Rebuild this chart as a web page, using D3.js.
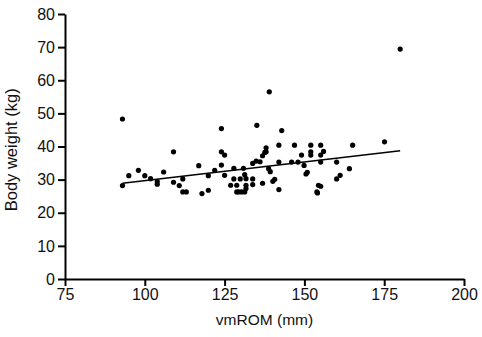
<!DOCTYPE html>
<html lang="en">
<head>
<meta charset="UTF-8">
<title>Body weight vs vmROM</title>
<style>
  body { margin: 0; background: #fff; }
  text { font-family: "Liberation Sans", Arial, sans-serif; }
</style>
</head>
<body>
<div id="wrapper"></div>
<script src="https://d3js.org/d3.v7.min.js"></script>
<script>
// data
const vmROM = [93, 93, 95, 98, 100, 101.8, 103.9, 103.9, 105.9, 109, 109, 110.8, 111.9, 111.9, 113,
  116.9, 117.9, 119.9, 119.9, 121.9, 124, 124, 125, 124, 125, 127.9, 127.9, 126.9, 128.8, 129.9,
  130.9, 131.3, 131.7, 128.8, 129.4, 130.3, 131.3, 131.7, 131.7, 133.8, 133.8, 133.8, 134.9, 135.1,
  136.1, 136.9, 136.9, 137.6, 138, 138, 138.8, 139, 139.3, 140.1, 140.7, 142, 142, 142, 142.9,
  146, 146.9, 148, 149.1, 149.9, 150.5, 150.9, 152, 152, 152, 153.9, 154.4, 155.1, 155.1, 156,
  155.1, 155.1, 154.1, 160.1, 160.1, 161.2, 164.1, 165.1, 175.1, 180];
const bodyWeight = [48.3, 28.2, 31.2, 32.8, 31.2, 30.3, 29.4, 28.6, 32.3, 38.4, 29.2, 28.2, 30.2, 26.3, 26.3,
  34.2, 25.8, 31.2, 26.8, 32.8, 45.4, 38.4, 37.4, 34.4, 31.3, 33.4, 30.2, 28.3, 28.3, 30.2,
  33.4, 31.5, 30.3, 26.3, 26.3, 26.3, 26.3, 28.3, 27.3, 30.2, 28.5, 34.9, 35.6, 46.4,
  35.4, 37.2, 28.9, 38.2, 39.6, 38.4, 33.3, 56.5, 32.4, 29.5, 30.1, 40.4, 35.3, 27.0, 44.8,
  35.3, 40.4, 35.3, 37.4, 34.3, 31.7, 32.2, 38.4, 40.4, 37.4, 26.3, 28.3, 40.4, 37.4, 38.5,
  35.3, 28.0, 26.0, 35.3, 30.2, 31.3, 33.3, 40.4, 41.4, 69.4];
// fitted line end points
const fitX = [93, 180];
const fitY = [28.9, 38.7];
const xTicks = [75, 100, 125, 150, 175, 200];
const yTicks = [0, 10, 20, 30, 40, 50, 60, 70, 80];

const width = 482, height = 337;
const margin = { top: 14, right: 18, bottom: 58, left: 65 };

const svg = d3.select('#wrapper').append('svg')
  .attr('width', width)
  .attr('height', height);

const xScale = d3.scaleLinear().domain([75, 200]).range([margin.left, width - margin.right]);
const yScale = d3.scaleLinear().domain([0, 80]).range([height - margin.bottom, margin.top]);

// axes
const xAxis = svg.append('g')
  .attr('transform', `translate(0, ${height - margin.bottom})`)
  .call(d3.axisBottom(xScale).tickValues(xTicks).tickSizeInner(7).tickSizeOuter(0).tickPadding(3));

const yAxis = svg.append('g')
  .attr('transform', `translate(${margin.left}, 0)`)
  .call(d3.axisLeft(yScale).tickValues(yTicks).tickSizeInner(7).tickSizeOuter(0).tickPadding(3));

[xAxis, yAxis].forEach(ax => {
  ax.select('.domain').attr('stroke', '#000').attr('stroke-width', 2);
  ax.selectAll('.tick line').attr('stroke', '#000').attr('stroke-width', 2);
  ax.selectAll('.tick text').attr('fill', '#111').style('font-size', '16px');
});

// axis titles
svg.append('text')
  .attr('x', xScale(137.5))
  .attr('y', 325)
  .attr('text-anchor', 'middle')
  .style('font-size', '15.5px')
  .attr('fill', '#111')
  .text('vmROM (mm)');

svg.append('text')
  .attr('transform', `translate(17, ${yScale(39)}) rotate(-90)`)
  .attr('text-anchor', 'middle')
  .style('font-size', '16.5px')
  .attr('fill', '#111')
  .text('Body weight (kg)');

// regression line
const line = d3.line()
  .x(d => xScale(d[0]))
  .y(d => yScale(d[1]));

svg.append('path')
  .attr('d', line(d3.zip(fitX, fitY)))
  .attr('fill', 'none')
  .attr('stroke', '#000')
  .attr('stroke-width', 1.4);

// points
svg.append('g')
  .selectAll('circle')
  .data(d3.zip(vmROM, bodyWeight))
  .join('circle')
  .attr('cx', d => xScale(d[0]))
  .attr('cy', d => yScale(d[1]))
  .attr('r', 2.6)
  .attr('fill', '#000');
</script>
</body>
</html>
